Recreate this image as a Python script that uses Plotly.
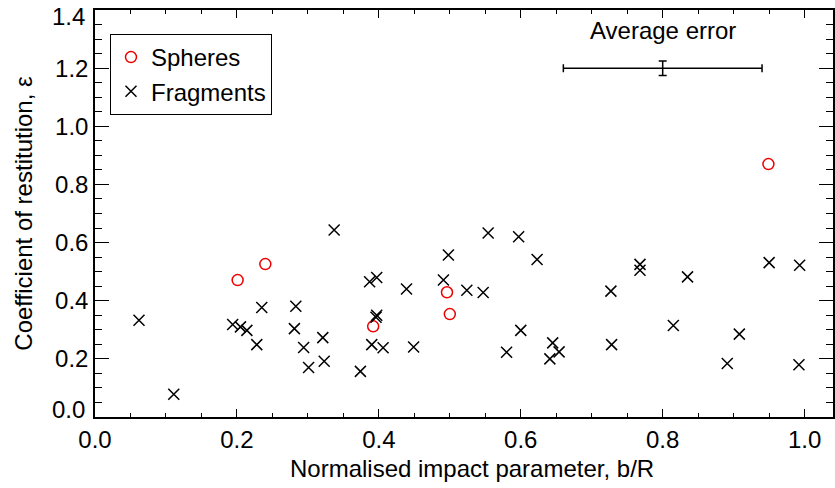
import plotly.graph_objects as go

# ---- data ----
sphere_b = [0.201, 0.240, 0.392, 0.496, 0.500, 0.949]
sphere_e = [0.471, 0.526, 0.312, 0.429, 0.354, 0.870]

frag_b = [0.062, 0.111, 0.194, 0.205, 0.214, 0.228, 0.235, 0.281, 0.283, 0.294,
          0.301, 0.321, 0.323, 0.337, 0.374, 0.387, 0.390, 0.397, 0.397, 0.396,
          0.406, 0.439, 0.449, 0.491, 0.498, 0.524, 0.547, 0.554, 0.580, 0.597,
          0.600, 0.623, 0.641, 0.645, 0.654, 0.727, 0.728, 0.768, 0.768, 0.815,
          0.835, 0.891, 0.908, 0.950, 0.993, 0.992]
frag_e = [0.333, 0.078, 0.318, 0.310, 0.298, 0.249, 0.377, 0.304, 0.381, 0.239,
          0.170, 0.273, 0.192, 0.643, 0.157, 0.465, 0.249, 0.480, 0.350, 0.343,
          0.238, 0.440, 0.241, 0.471, 0.557, 0.436, 0.428, 0.633, 0.223, 0.620,
          0.298, 0.542, 0.200, 0.255, 0.224, 0.433, 0.249, 0.525, 0.505, 0.315,
          0.482, 0.184, 0.285, 0.531, 0.522, 0.180]

avg_err_b = [0.80]
avg_err_e = [1.20]
avg_err_db = [0.14]
avg_err_de = [0.025]

x_range = [0.0, 1.04]
y_range = [0.0, 1.4001]
# end labels of the y axis are drawn nudged inward (as in the original figure)
y_end_labels = [(0.0, "0.0", 8), (1.4, "1.4", -6)]

FONT = "Liberation Sans, Arial, Helvetica, sans-serif"

fig = go.Figure()
fig.add_trace(go.Scatter(
    x=sphere_b, y=sphere_e, mode="markers", name="Spheres",
    marker=dict(symbol="circle-open", size=11, color="#ee0000",
                line=dict(width=1.5, color="#ee0000")),
))
fig.add_trace(go.Scatter(
    x=frag_b, y=frag_e, mode="markers", name="Fragments",
    marker=dict(symbol="x-thin-open", size=11, color="black",
                line=dict(width=1.5, color="black")),
))
fig.add_trace(go.Scatter(
    x=avg_err_b, y=avg_err_e, mode="markers", showlegend=False,
    marker=dict(size=1, color="rgba(0,0,0,0)"),
    error_x=dict(type="data", array=avg_err_db, color="black", thickness=1.5, width=4),
    error_y=dict(type="data", array=avg_err_de, color="black", thickness=1.5, width=4),
    hoverinfo="skip",
))

fig.add_annotation(x=0.80, y=1.328, text="Average error", showarrow=False,
                   xanchor="center", yanchor="middle",
                   font=dict(family=FONT, size=24, color="black"))

# x-axis title placed as text below the tick labels
fig.add_annotation(x=0.511, y=-0.126, xref="paper", yref="paper",
                   text="Normalised impact parameter, b/R", showarrow=False,
                   xanchor="center", yanchor="middle",
                   font=dict(family=FONT, size=24, color="black"))

for val, txt, shift in y_end_labels:
    fig.add_annotation(x=0, y=val, xref="paper", yref="y", text=txt,
                       showarrow=False, xanchor="right", yanchor="middle",
                       xshift=-8, yshift=shift,
                       font=dict(family=FONT, size=24, color="black"))

axis_common = dict(
    showline=True, linecolor="black", linewidth=1.5, mirror="ticks",
    ticks="inside", tickcolor="black", tickwidth=1, automargin=False,
    showgrid=False, zeroline=False, tickformat=".1f",
    tickfont=dict(family=FONT, size=24, color="black"),
)

fig.update_xaxes(
    range=x_range, dtick=0.2, tick0=0, ticklen=8,
    minor=dict(dtick=0.05, ticks="inside", ticklen=4, tickcolor="black", tickwidth=1),
    **axis_common,
)
fig.update_yaxes(
    range=y_range, dtick=0.2, tick0=0, ticklen=14,
    labelalias={"0.0": " ", "1.4": " "},
    minor=dict(dtick=0.05, ticks="inside", ticklen=7, tickcolor="black", tickwidth=1),
    title=dict(text="Coefficient of restitution, ε", standoff=16,
               font=dict(family=FONT, size=24, color="black")),
    **axis_common,
)

fig.update_layout(
    width=835, height=488,
    margin=dict(l=95, r=2, t=10, b=71),
    paper_bgcolor="white", plot_bgcolor="white",
    font=dict(family=FONT, size=24, color="black"),
    legend=dict(x=0.0203, y=0.941, xanchor="left", yanchor="top",
                bgcolor="white", bordercolor="black", borderwidth=1,
                font=dict(family=FONT, size=24, color="black"),
                itemwidth=30, tracegroupgap=0),
    showlegend=True,
)

fig.write_html("out.html",
               config={"displayModeBar": False},
               post_script="document.body.style.margin='0px';document.body.style.overflow='hidden';")
